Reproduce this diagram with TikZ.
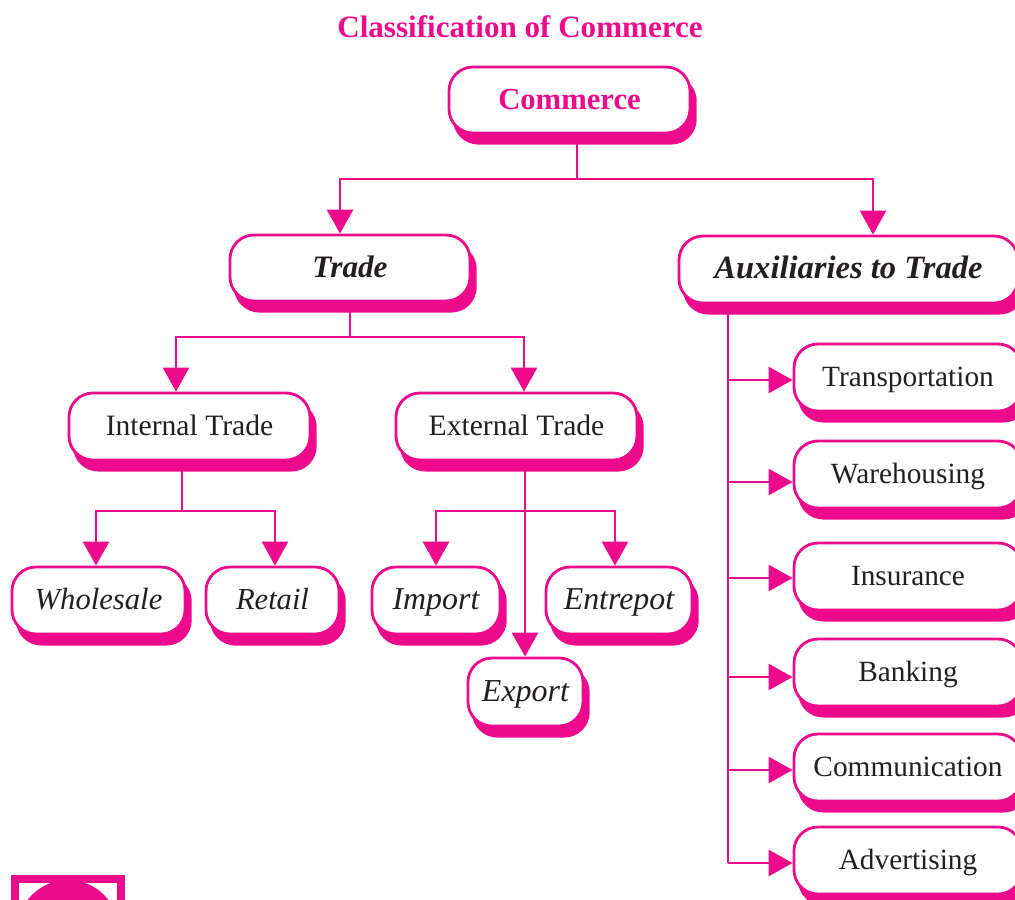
\documentclass[tikz,border=0pt]{standalone}
\usepackage{fontspec}
\setmainfont{Liberation Serif}
\usetikzlibrary{arrows.meta,shadows,calc}
\definecolor{cpink}{HTML}{EE0A8C}
\definecolor{cink}{HTML}{231F20}
\newcommand{\fsize}[1]{\fontsize{#1pt}{#1pt}\selectfont}
\newcommand{\cbox}[6]{%
  \node[boxn,minimum width={(#3-#2)*0.75pt},minimum height={(#5-#4)*0.75pt}] (#1) at ({(#2+#3)/2},{(#4+#5)/2}) {#6};}
\tikzset{
  conn/.style={draw=cpink,line width=2.1pt},
  arr/.style={conn,-{Triangle[length=18pt,width=19.5pt]}},
  boxn/.style={draw=cpink,fill=white,line width=2.1pt,rounded corners=18pt,inner sep=0pt,text=cink,
    text height=16pt,text depth=1.8pt,
    copy shadow={shadow xshift=4pt,shadow yshift=-7.6pt,fill=cpink,draw=cpink}},
  bpink/.style={font=\fsize{23.3}\bfseries,text=cpink},
  frameb/.style={draw=cpink,line width=6pt,fill=white}
}
\begin{document}
\begin{tikzpicture}[x=0.75pt,y=-0.75pt]
\useasboundingbox (0,0) rectangle (1015,900);
\clip (0,0) rectangle (1015,900);
\node[bpink,inner sep=0pt] (title) at (520,27) {Classification of Commerce};
\cbox{commerce}{449}{690}{67}{133}{\fsize{23}\bfseries\textcolor{cpink}{Commerce}}
\cbox{trade}{230}{470}{235}{301}{\fsize{23.4}\bfseries\itshape Trade}
\cbox{aux}{679}{1018}{236}{303}{\fsize{24.4}\bfseries\itshape Auxiliaries to Trade}
\cbox{internal}{69}{310}{393}{460}{\fsize{22.2}Internal Trade}
\cbox{external}{396}{637}{393}{460}{\fsize{22.2}External Trade}
\cbox{wholesale}{12}{185}{567}{634}{\fsize{23}\itshape Wholesale}
\cbox{retail}{206}{339}{567}{634}{\fsize{22.9}\itshape Retail}
\cbox{import}{372}{500}{567}{634}{\fsize{23.9}\itshape Import}
\cbox{entrepot}{546}{692}{567}{634}{\fsize{23.9}\itshape Entrepot}
\cbox{export}{468}{583}{658}{726}{\fsize{24}\itshape Export}
\cbox{transport}{794}{1022}{344}{411}{\fsize{22}Transportation}
\cbox{warehouse}{794}{1022}{441}{508}{\fsize{22}Warehousing}
\cbox{insurance}{794}{1022}{543}{610}{\fsize{22}Insurance}
\cbox{banking}{794}{1022}{639}{706}{\fsize{22}Banking}
\cbox{communication}{794}{1022}{734}{801}{\fsize{22}Communication}
\cbox{advertising}{794}{1022}{827}{894}{\fsize{22}Advertising}
% Commerce branch
\coordinate (j1) at (577,179);
\coordinate (j1l) at (340,179);
\coordinate (j1r) at (873,179);
\draw[conn] (j1 |- commerce.south) -- (j1);
\draw[arr] (j1) -- (j1l) -- (j1l |- trade.north);
\draw[arr] (j1) -- (j1r) -- (j1r |- aux.north);
% Trade branch
\coordinate (j2) at (350,337);
\coordinate (j2l) at (176,337);
\coordinate (j2r) at (524,337);
\draw[conn] (trade.south) -- (j2);
\draw[arr] (j2) -- (j2l) -- (j2l |- internal.north);
\draw[arr] (j2) -- (j2r) -- (j2r |- external.north);
% Internal branch
\coordinate (j3) at (182,511);
\coordinate (j3l) at (96,511);
\coordinate (j3r) at (275,511);
\draw[conn] (j3 |- internal.south) -- (j3);
\draw[arr] (j3) -- (j3l) -- (j3l |- wholesale.north);
\draw[arr] (j3) -- (j3r) -- (j3r |- retail.north);
% External branch
\coordinate (j4) at (525,511);
\coordinate (j4l) at (436,511);
\coordinate (j4r) at (615,511);
\draw[arr] (j4 |- external.south) -- (j4 |- export.north);
\draw[arr] (j4) -- (j4l) -- (j4l |- import.north);
\draw[arr] (j4) -- (j4r) -- (j4r |- entrepot.north);
% Auxiliaries branch
\coordinate (a1) at (728,380);
\coordinate (a2) at (728,482);
\coordinate (a3) at (728,578);
\coordinate (a4) at (728,677);
\coordinate (a5) at (728,770);
\coordinate (a6) at (728,863);
\draw[conn] (a1 |- aux.south) -- (a6);
\draw[arr] (a1) -- (a1 -| transport.west);
\draw[arr] (a2) -- (a2 -| warehouse.west);
\draw[arr] (a3) -- (a3 -| insurance.west);
\draw[arr] (a4) -- (a4 -| banking.west);
\draw[arr] (a5) -- (a5 -| communication.west);
\draw[arr] (a6) -- (a6 -| advertising.west);
% emblem at the bottom left
\draw[frameb] (15,879) rectangle (121,930);
\fill[cpink] (68,931) circle [radius=51];
\end{tikzpicture}
\end{document}
